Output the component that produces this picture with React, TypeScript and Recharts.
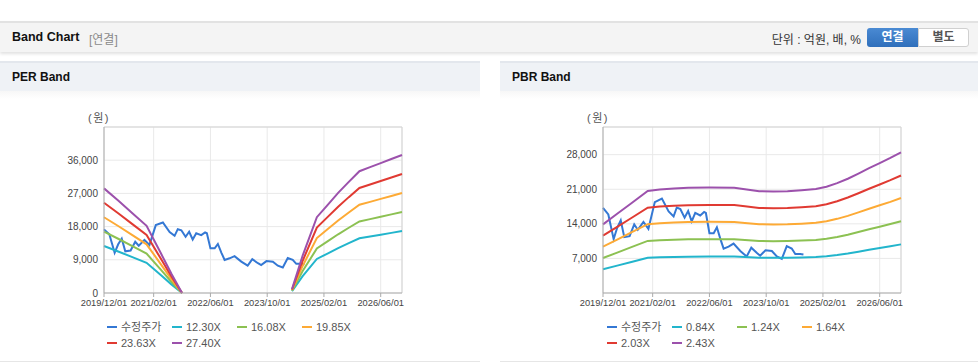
import React from 'react';
import { LineChart, Line, XAxis, YAxis, CartesianGrid, ReferenceLine } from 'recharts';

// month index 0 = 2019/12/01, 84 = 2026/12/01
const xTickValues = [0, 14, 30, 46, 62, 78];
const xTickLabels = ['2019/12/01', '2021/02/01', '2022/06/01', '2023/10/01', '2025/02/01', '2026/06/01'];

// adjusted price (수정주가), shared by both charts
const priceMonths = [0, 1.5, 3, 4, 5, 6, 7.5, 8.8, 9.8, 11.4, 12.8, 14.6, 16.6, 18.5, 19.9, 20.8, 21.8, 23, 24, 25, 26, 27.4, 28.5, 29, 30, 31.2, 32.1, 33.1, 34, 35.4, 36.8, 38.7, 40.5, 41.8, 43.4, 44.3, 45.8, 47.6, 49, 50.4, 51.8, 53.2, 54.2, 55.6, 56.5];
const priceValues = [17250, 15900, 10900, 13200, 14700, 11300, 11500, 13900, 12800, 14400, 13000, 18400, 19100, 16500, 15500, 17300, 17000, 15250, 16600, 14500, 16200, 15700, 16400, 16200, 12100, 12100, 13300, 10900, 8970, 9400, 10000, 8500, 7400, 9160, 8080, 7550, 8650, 8500, 7400, 6900, 9500, 9000, 7900, 7900, 7800];

// PER band
const perMonths = [0, 4, 8, 12, 16, 19, 22, 37, 53, 56, 60, 63, 66, 69, 72, 75, 78, 81, 84];
const per1230 = [12730, 11260, 9720, 8180, 4860, 2340, 0, null, 490, 4550, 9230, 10700, 12180, 13530, 14820, 15310, 15810, 16300, 16790];
const per1608 = [16640, 14710, 12700, 10690, 6350, 3060, 0, null, 640, 5950, 12060, 13990, 15920, 17690, 19380, 20020, 20660, 21310, 21950];
const per1985 = [20540, 18160, 15680, 13200, 7840, 3770, 0, null, 790, 7340, 14890, 17270, 19650, 21840, 23920, 24710, 25510, 26300, 27100];
const per2363 = [24460, 21620, 18670, 15710, 9330, 4490, 0, null, 950, 8740, 17720, 20560, 23390, 25990, 28470, 29420, 30360, 31310, 32250];
const per2740 = [28360, 25070, 21650, 18220, 10820, 5210, 0, null, 1100, 10140, 20550, 23840, 27130, 30140, 33020, 34110, 35210, 36310, 37400];
const perTicks = [0, 9000, 18000, 27000, 36000];

// PBR band
const pbrMonths = [0, 4, 8, 12.6, 16, 20, 24, 30, 37, 40, 44, 48, 52, 56, 60, 63, 66, 69, 72, 75, 78, 81, 84];
const pbr084 = [4800, 5540, 6280, 7140, 7240, 7310, 7360, 7380, 7370, 7270, 7120, 7110, 7120, 7190, 7270, 7430, 7690, 8000, 8360, 8740, 9090, 9450, 9840];
const pbr124 = [7090, 8180, 9280, 10540, 10690, 10790, 10860, 10890, 10870, 10730, 10520, 10490, 10520, 10610, 10740, 10970, 11350, 11800, 12340, 12900, 13420, 13950, 14530];
const pbr164 = [9380, 10820, 12270, 13940, 14140, 14270, 14370, 14400, 14380, 14190, 13910, 13870, 13910, 14040, 14200, 14510, 15010, 15610, 16320, 17060, 17750, 18450, 19220];
const pbr203 = [11610, 13400, 15180, 17260, 17500, 17660, 17780, 17820, 17800, 17560, 17210, 17170, 17210, 17380, 17580, 17970, 18570, 19330, 20200, 21110, 21970, 22840, 23790];
const pbr243 = [13900, 16040, 18180, 20660, 20950, 21140, 21290, 21340, 21310, 21020, 20610, 20560, 20610, 20800, 21040, 21510, 22240, 23130, 24180, 25270, 26290, 27340, 28480];
const pbrTicks = [7000, 14000, 21000, 28000];

const COLORS = ['#3478d4', '#22b5cc', '#8cc152', '#fdaa35', '#e03a32', '#9c51ac'];
const SANS = '"Liberation Sans", "Noto Sans CJK KR", sans-serif';

type Series = { name: string; color: string; data: { m: number; v: number | null }[] };

const toPoints = (months: number[], values: (number | null)[]) =>
  months.map((m, i) => ({ m, v: values[i] }));

const priceSeries: Series = { name: '수정주가', color: COLORS[0], data: toPoints(priceMonths, priceValues) };

const perSeries: Series[] = [
  priceSeries,
  { name: '12.30X', color: COLORS[1], data: toPoints(perMonths, per1230) },
  { name: '16.08X', color: COLORS[2], data: toPoints(perMonths, per1608) },
  { name: '19.85X', color: COLORS[3], data: toPoints(perMonths, per1985) },
  { name: '23.63X', color: COLORS[4], data: toPoints(perMonths, per2363) },
  { name: '27.40X', color: COLORS[5], data: toPoints(perMonths, per2740) },
];

const pbrSeries: Series[] = [
  priceSeries,
  { name: '0.84X', color: COLORS[1], data: toPoints(pbrMonths, pbr084) },
  { name: '1.24X', color: COLORS[2], data: toPoints(pbrMonths, pbr124) },
  { name: '1.64X', color: COLORS[3], data: toPoints(pbrMonths, pbr164) },
  { name: '2.03X', color: COLORS[4], data: toPoints(pbrMonths, pbr203) },
  { name: '2.43X', color: COLORS[5], data: toPoints(pbrMonths, pbr243) },
];

const fmtX = (v: number) => xTickLabels[xTickValues.indexOf(v)] ?? '';
const fmtY = (v: number) => v.toLocaleString('en-US');

const BandLegend: React.FC<{ series: Series[] }> = ({ series }) => (
  <div
    style={{
      position: 'absolute', left: 107, top: 259, width: 270,
      display: 'grid', gridTemplateColumns: 'repeat(4, 65px)', rowGap: 2,
      fontFamily: SANS, fontSize: 11, color: '#555', lineHeight: '14px',
    }}
  >
    {series.map((s) => (
      <div key={s.name} style={{ display: 'flex', alignItems: 'center', whiteSpace: 'nowrap' }}>
        <span style={{ display: 'inline-block', width: 10, height: 2, background: s.color, marginRight: 4 }} />
        {s.name}
      </div>
    ))}
  </div>
);

const BandPanel: React.FC<{
  left: number; width: number; title: string; series: Series[];
  yMax: number; yTicks: number[]; marginLeft: number; marginRight: number;
}> = ({ left, width, title, series, yMax, yTicks, marginLeft, marginRight }) => (
  <div style={{ position: 'absolute', left, top: 61, width, height: 300, borderBottom: '1px solid #e6e6e6' }}>
    <div
      style={{
        height: 28, borderTop: '2px solid #e3e7ed', background: '#eff2f6',
        fontFamily: SANS, fontWeight: 'bold', fontSize: 12, color: '#111',
        lineHeight: '28px', paddingLeft: 12,
      }}
    >
      {title}
    </div>
    <div style={{ height: 8, background: 'linear-gradient(#f7f7f7, #ffffff)' }} />
    <span
      style={{
        position: 'absolute', left: marginLeft + 60 - 14 - 2, top: 48,
        fontFamily: SANS, fontSize: 11, color: '#555', letterSpacing: 1.5,
      }}
    >
      (원)
    </span>
    <div style={{ position: 'absolute', left: 0, top: 39 }}>
      <LineChart
        width={420}
        height={230}
        margin={{ top: 27, right: marginRight, bottom: 7, left: marginLeft }}
      >
        <CartesianGrid stroke="#e9e9e9" />
        <XAxis
          dataKey="m"
          type="number"
          domain={[0, 84]}
          ticks={xTickValues}
          tickFormatter={fmtX}
          allowDuplicatedCategory={false}
          interval={0}
          height={30}
          stroke="#aaa"
          tickSize={4}
          tick={{ fontSize: 9.3, fill: '#444', fontFamily: SANS }}
        />
        <YAxis
          type="number"
          domain={[0, yMax]}
          ticks={yTicks}
          tickFormatter={fmtY}
          interval={0}
          width={60}
          stroke="#aaa"
          tickLine={false}
          tickSize={4}
          tick={{ fontSize: 10, fill: '#444', fontFamily: SANS }}
        />
        <ReferenceLine y={yMax} stroke="#d4d4d4" />
        <ReferenceLine x={84} stroke="#d4d4d4" />
        {series.map((s) => (
          <Line
            key={s.name}
            data={s.data}
            dataKey="v"
            name={s.name}
            stroke={s.color}
            strokeWidth={2}
            dot={false}
            activeDot={false}
            type="linear"
            isAnimationActive={false}
          />
        ))}
      </LineChart>
    </div>
    <BandLegend series={series} />
  </div>
);

const App: React.FC = () => (
  <div style={{ position: 'fixed', left: 0, top: 0, width: 978, height: 362, background: '#fff', overflow: 'hidden' }}>
    {/* header bar */}
    <div
      style={{
        position: 'absolute', left: 0, top: 21, width: 978, height: 29,
        borderTop: '2px solid #e2e2e2', background: '#f4f4f4',
        boxShadow: '0 2px 3px rgba(0,0,0,0.12)', fontFamily: SANS,
      }}
    >
      <span style={{ position: 'absolute', left: 12, top: 7, fontWeight: 'bold', fontSize: 12.5, color: '#111' }}>
        Band Chart
      </span>
      <span style={{ position: 'absolute', left: 89, top: 7, fontSize: 12, color: '#8a8a8a' }}>[연결]</span>
      <span style={{ position: 'absolute', right: 117, top: 7, fontSize: 12, color: '#333' }}>단위 : 억원, 배, %</span>
      <div
        style={{
          position: 'absolute', left: 867, top: 5, width: 51, height: 19,
          background: 'linear-gradient(#4a8ad3, #2f6fbb)', borderRadius: '3px 0 0 3px',
          color: '#fff', fontWeight: 'bold', fontSize: 12, textAlign: 'center', lineHeight: '19px',
        }}
      >
        연결
      </div>
      <div
        style={{
          position: 'absolute', left: 918, top: 5, width: 49, height: 17,
          background: '#fff', border: '1px solid #d0d0d0', borderRadius: '0 3px 3px 0',
          color: '#555', fontWeight: 'bold', fontSize: 12, textAlign: 'center', lineHeight: '17px',
        }}
      >
        별도
      </div>
    </div>

    <BandPanel
      left={0} width={480} title="PER Band" series={perSeries}
      yMax={45000} yTicks={perTicks} marginLeft={44} marginRight={18}
    />
    <BandPanel
      left={500} width={478} title="PBR Band" series={pbrSeries}
      yMax={33600} yTicks={pbrTicks} marginLeft={43} marginRight={19}
    />
  </div>
);

export default App;
